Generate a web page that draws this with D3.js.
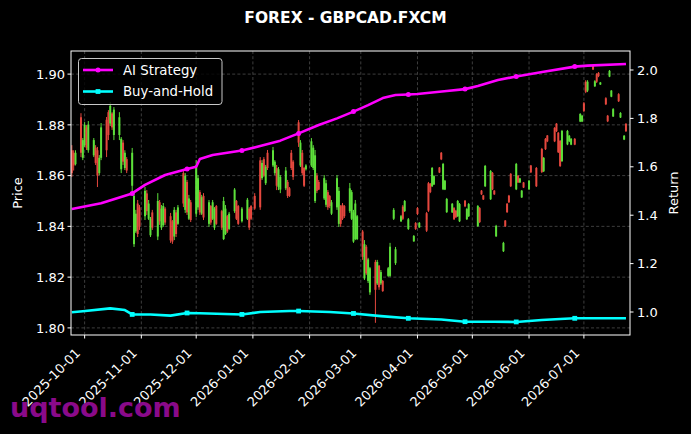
<!DOCTYPE html>
<html><head><meta charset="utf-8">
<script src="https://cdn.jsdelivr.net/npm/d3@7"></script>
<style>html,body{margin:0;padding:0;background:#000;}svg{display:block;font-family:"DejaVu Sans",sans-serif;}</style>
</head><body>
<svg id="chart" width="691" height="434"></svg>
<script>
// ---------- DATA ----------
const candleDates = ["2025-09-24","2025-09-25","2025-09-26","2025-09-29","2025-09-30","2025-10-01","2025-10-02","2025-10-03","2025-10-06","2025-10-07","2025-10-08","2025-10-09","2025-10-10","2025-10-13","2025-10-14","2025-10-15","2025-10-16","2025-10-17","2025-10-20","2025-10-21","2025-10-22","2025-10-23","2025-10-24","2025-10-27","2025-10-28","2025-10-29","2025-10-30","2025-10-31",
"2025-11-03","2025-11-04","2025-11-05","2025-11-06","2025-11-07","2025-11-10","2025-11-11","2025-11-12","2025-11-13","2025-11-14","2025-11-17","2025-11-18","2025-11-19","2025-11-20","2025-11-21","2025-11-24","2025-11-25","2025-11-26","2025-11-27","2025-11-28",
"2025-12-01","2025-12-02","2025-12-03","2025-12-04","2025-12-05","2025-12-08","2025-12-09","2025-12-10","2025-12-11","2025-12-12","2025-12-15","2025-12-16","2025-12-17","2025-12-18","2025-12-19","2025-12-22","2025-12-23","2025-12-24","2025-12-26","2025-12-29","2025-12-30","2025-12-31",
"2026-01-02","2026-01-05","2026-01-06","2026-01-07","2026-01-08","2026-01-09","2026-01-12","2026-01-13","2026-01-14","2026-01-15","2026-01-16","2026-01-19","2026-01-20","2026-01-21","2026-01-22","2026-01-23","2026-01-26","2026-01-27","2026-01-28","2026-01-29","2026-01-30",
"2026-02-02","2026-02-03","2026-02-04","2026-02-05","2026-02-06","2026-02-09","2026-02-10","2026-02-11","2026-02-12","2026-02-13","2026-02-16","2026-02-17","2026-02-18","2026-02-19","2026-02-20","2026-02-23","2026-02-24","2026-02-25","2026-02-26","2026-02-27",
"2026-03-02","2026-03-03","2026-03-04","2026-03-05","2026-03-06","2026-03-09","2026-03-10","2026-03-11","2026-03-12","2026-03-13","2026-03-16","2026-03-17","2026-03-19","2026-03-20","2026-03-23","2026-03-24","2026-03-25","2026-03-27","2026-03-30","2026-03-31",
"2026-04-01","2026-04-02","2026-04-06","2026-04-07","2026-04-08","2026-04-09","2026-04-10","2026-04-13","2026-04-14","2026-04-15","2026-04-16","2026-04-17","2026-04-20","2026-04-21","2026-04-22","2026-04-23","2026-04-24","2026-04-27","2026-04-28","2026-04-29",
"2026-05-04","2026-05-05","2026-05-06","2026-05-07","2026-05-08","2026-05-11","2026-05-12","2026-05-13","2026-05-14","2026-05-18","2026-05-19","2026-05-20","2026-05-21","2026-05-22","2026-05-25","2026-05-26","2026-05-27","2026-05-28","2026-05-29",
"2026-06-01","2026-06-02","2026-06-05","2026-06-08","2026-06-09","2026-06-10","2026-06-11","2026-06-15","2026-06-16","2026-06-17","2026-06-18","2026-06-19","2026-06-22","2026-06-23","2026-06-24","2026-06-26","2026-06-29","2026-06-30",
"2026-07-01","2026-07-02","2026-07-03","2026-07-06","2026-07-07","2026-07-08","2026-07-09","2026-07-10","2026-07-13","2026-07-14","2026-07-15","2026-07-16","2026-07-17","2026-07-20","2026-07-21","2026-07-23","2026-07-24"];

const opens = [1.8700,1.8690,1.8645,1.8830,1.8670,1.8720,1.8790,1.8700,1.8680,1.8710,1.8700,1.8610,1.8670,1.8820,1.8850,1.8805,1.8845,1.8760,1.8760,1.8625,1.8730,1.8630,1.8665,1.8560,1.8330,1.8380,1.8490,1.8475,
1.8440,1.8530,1.8430,1.8365,1.8455,1.8360,1.8495,1.8395,1.8405,1.8470,1.8440,1.8420,1.8360,1.8455,1.8410,1.8610,1.8465,1.8575,1.8430,1.8495,
1.8450,1.8475,1.8535,1.8450,1.8520,1.8410,1.8480,1.8430,1.8395,1.8480,1.8460,1.8350,1.8370,1.8440,1.8390,1.8460,1.8500,1.8480,1.8420,1.8430,1.8470,1.8480,
1.8520,1.8660,1.8590,1.8665,1.8570,1.8690,1.8640,1.8610,1.8630,1.8555,1.8545,1.8550,1.8575,1.8550,1.8690,1.8655,1.8810,1.8640,1.8690,1.8630,1.8625,
1.8640,1.8630,1.8500,1.8600,1.8575,1.8510,1.8485,1.8535,1.8520,1.8450,1.8475,1.8410,1.8480,1.8485,1.8480,1.8460,1.8430,1.8340,1.8350,1.8350,
1.8380,1.8195,1.8320,1.8185,1.8140,1.8260,1.8175,1.8245,1.8175,1.8185,1.8205,1.8205,1.8430,1.8255,1.8420,1.8478,1.8460,1.8390,1.8341,1.8413,
1.8472,1.8396,1.8452,1.8570,1.8568,1.8558,1.8565,1.8632,1.8690,1.8546,1.8545,1.8456,1.8455,1.8472,1.8462,1.8440,1.8420,1.8501,1.8428,1.8440,
1.8401,1.8472,1.8541,1.8522,1.8558,1.8507,1.8611,1.8541,1.8361,1.8302,1.8423,1.8489,1.8521,1.8607,1.8546,1.8600,1.8573,1.8514,1.8573,
1.8546,1.8640,1.8630,1.8705,1.8617,1.8745,1.8758,1.8788,1.8805,1.8769,1.8737,1.8657,1.8723,1.8735,1.8722,1.8745,1.8813,1.8813,
1.8885,1.8970,1.8935,1.9033,1.8952,1.9000,1.9005,1.8959,1.8905,1.8836,1.8990,1.8911,1.8833,1.8921,1.8829,1.8742,1.8804];

const highs = [1.8720,1.8700,1.8700,1.8846,1.8748,1.8811,1.8799,1.8815,1.8748,1.8720,1.8713,1.8681,1.8807,1.8831,1.8858,1.8890,1.8850,1.8870,1.8850,1.8752,1.8740,1.8700,1.8673,1.8709,1.8531,1.8465,1.8504,1.8484,
1.8555,1.8543,1.8504,1.8437,1.8465,1.8531,1.8504,1.8484,1.8492,1.8476,1.8453,1.8425,1.8476,1.8465,1.8484,1.8622,1.8610,1.8583,1.8524,1.8504,
1.8661,1.8602,1.8543,1.8524,1.8531,1.8504,1.8484,1.8504,1.8476,1.8484,1.8465,1.8516,1.8484,1.8445,1.8457,1.8551,1.8504,1.8484,1.8476,1.8512,1.8476,1.8484,
1.8531,1.8673,1.8661,1.8673,1.8642,1.8701,1.8713,1.8661,1.8642,1.8634,1.8602,1.8634,1.8583,1.8555,1.8701,1.8661,1.8819,1.8740,1.8701,1.8634,1.8645,
1.8748,1.8720,1.8701,1.8610,1.8583,1.8602,1.8583,1.8543,1.8524,1.8504,1.8602,1.8555,1.8484,1.8492,1.8484,1.8571,1.8543,1.8465,1.8504,1.8445,
1.8386,1.8346,1.8327,1.8276,1.8240,1.8268,1.8268,1.8248,1.8228,1.8189,1.8240,1.8335,1.8472,1.8319,1.8445,1.8484,1.8504,1.8433,1.8366,1.8417,
1.8476,1.8417,1.8457,1.8575,1.8571,1.8634,1.8602,1.8634,1.8693,1.8650,1.8583,1.8512,1.8492,1.8476,1.8465,1.8504,1.8492,1.8504,1.8472,1.8492,
1.8484,1.8476,1.8543,1.8524,1.8642,1.8622,1.8614,1.8543,1.8406,1.8339,1.8425,1.8492,1.8524,1.8610,1.8650,1.8602,1.8591,1.8543,1.8575,
1.8583,1.8642,1.8634,1.8709,1.8673,1.8748,1.8760,1.8791,1.8807,1.8772,1.8740,1.8780,1.8780,1.8760,1.8748,1.8748,1.8846,1.8839,
1.8890,1.8976,1.8976,1.9035,1.8976,1.9004,1.9008,1.8969,1.8909,1.8839,1.9016,1.8937,1.8866,1.8925,1.8850,1.8760,1.8807];

const lows = [1.8595,1.8620,1.8640,1.8673,1.8661,1.8713,1.8701,1.8690,1.8673,1.8642,1.8555,1.8602,1.8661,1.8673,1.8740,1.8795,1.8780,1.8740,1.8740,1.8610,1.8642,1.8622,1.8610,1.8531,1.8319,1.8374,1.8358,1.8386,
1.8425,1.8445,1.8425,1.8358,1.8386,1.8346,1.8406,1.8386,1.8398,1.8406,1.8335,1.8331,1.8346,1.8358,1.8406,1.8476,1.8453,1.8445,1.8425,1.8417,
1.8437,1.8465,1.8445,1.8445,1.8425,1.8398,1.8406,1.8425,1.8386,1.8406,1.8386,1.8346,1.8366,1.8374,1.8386,1.8453,1.8425,1.8406,1.8415,1.8425,1.8386,1.8425,
1.8465,1.8465,1.8583,1.8594,1.8563,1.8622,1.8634,1.8602,1.8543,1.8543,1.8531,1.8543,1.8512,1.8516,1.8622,1.8583,1.8713,1.8634,1.8602,1.8555,1.8620,
1.8634,1.8622,1.8492,1.8531,1.8543,1.8504,1.8476,1.8465,1.8472,1.8445,1.8465,1.8398,1.8398,1.8425,1.8433,1.8453,1.8425,1.8335,1.8346,1.8346,
1.8268,1.8189,1.8209,1.8177,1.8130,1.8020,1.8169,1.8150,1.8169,1.8142,1.8201,1.8201,1.8425,1.8248,1.8417,1.8425,1.8457,1.8386,1.8339,1.8386,
1.8445,1.8394,1.8378,1.8457,1.8531,1.8555,1.8563,1.8610,1.8661,1.8543,1.8543,1.8453,1.8453,1.8425,1.8433,1.8437,1.8417,1.8476,1.8425,1.8437,
1.8398,1.8413,1.8524,1.8504,1.8555,1.8504,1.8543,1.8524,1.8358,1.8299,1.8398,1.8453,1.8492,1.8555,1.8543,1.8571,1.8571,1.8512,1.8551,
1.8543,1.8610,1.8555,1.8610,1.8614,1.8701,1.8732,1.8732,1.8772,1.8689,1.8634,1.8654,1.8720,1.8732,1.8720,1.8720,1.8811,1.8811,
1.8850,1.8925,1.8929,1.9016,1.8949,1.8965,1.8988,1.8957,1.8878,1.8811,1.8988,1.8909,1.8831,1.8890,1.8827,1.8740,1.8772];

const closes = [1.8610,1.8640,1.8690,1.8690,1.8740,1.8800,1.8710,1.8800,1.8740,1.8650,1.8600,1.8670,1.8790,1.8700,1.8760,1.8875,1.8790,1.8860,1.8830,1.8745,1.8655,1.8690,1.8620,1.8690,1.8520,1.8450,1.8370,1.8400,
1.8540,1.8460,1.8490,1.8430,1.8395,1.8500,1.8420,1.8470,1.8480,1.8415,1.8345,1.8340,1.8465,1.8370,1.8475,1.8490,1.8600,1.8455,1.8510,1.8425,
1.8640,1.8590,1.8455,1.8515,1.8435,1.8495,1.8415,1.8495,1.8470,1.8410,1.8395,1.8500,1.8470,1.8380,1.8450,1.8545,1.8430,1.8410,1.8470,1.8505,1.8395,1.8430,
1.8470,1.8475,1.8650,1.8600,1.8635,1.8630,1.8700,1.8655,1.8560,1.8625,1.8595,1.8620,1.8520,1.8520,1.8630,1.8595,1.8730,1.8730,1.8610,1.8560,1.8640,
1.8735,1.8710,1.8680,1.8540,1.8545,1.8590,1.8570,1.8475,1.8480,1.8495,1.8590,1.8540,1.8410,1.8430,1.8440,1.8550,1.8535,1.8455,1.8490,1.8440,
1.8280,1.8330,1.8215,1.8270,1.8235,1.8150,1.8260,1.8160,1.8220,1.8145,1.8235,1.8320,1.8465,1.8310,1.8440,1.8430,1.8500,1.8428,1.8362,1.8390,
1.8449,1.8414,1.8383,1.8462,1.8535,1.8630,1.8598,1.8612,1.8664,1.8646,1.8580,1.8508,1.8489,1.8428,1.8436,1.8500,1.8488,1.8479,1.8468,1.8488,
1.8480,1.8417,1.8526,1.8506,1.8638,1.8618,1.8546,1.8526,1.8402,1.8335,1.8400,1.8456,1.8495,1.8558,1.8646,1.8573,1.8589,1.8541,1.8553,
1.8580,1.8613,1.8558,1.8614,1.8670,1.8704,1.8735,1.8735,1.8775,1.8692,1.8638,1.8776,1.8776,1.8757,1.8745,1.8722,1.8843,1.8836,
1.8855,1.8930,1.8970,1.9018,1.8972,1.8970,1.8992,1.8967,1.8881,1.8814,1.9013,1.8935,1.8862,1.8893,1.8847,1.8757,1.8775];

const strategyDates = ["2025-09-24","2025-10-10","2025-10-27","2025-11-03","2025-11-14","2025-11-26","2025-12-01","2025-12-03","2025-12-10","2025-12-26","2026-01-05","2026-01-16","2026-01-26","2026-02-06","2026-02-16","2026-02-25","2026-03-05","2026-03-13","2026-03-20","2026-03-27","2026-04-01","2026-04-17","2026-04-27","2026-05-04","2026-05-15","2026-05-25","2026-06-09","2026-06-26","2026-07-03","2026-07-24"];
const strategyReturns = [1.426,1.449,1.490,1.525,1.566,1.591,1.600,1.632,1.649,1.667,1.686,1.708,1.738,1.773,1.800,1.828,1.855,1.884,1.897,1.899,1.901,1.913,1.921,1.934,1.959,1.973,1.993,2.014,2.018,2.025];

const holdDates = ["2025-09-24","2025-09-30","2025-10-15","2025-10-23","2025-10-27","2025-11-06","2025-11-17","2025-11-26","2025-12-03","2025-12-26","2026-01-05","2026-01-21","2026-01-26","2026-02-12","2026-02-25","2026-03-12","2026-03-27","2026-04-14","2026-04-27","2026-05-13","2026-05-25","2026-06-08","2026-06-18","2026-06-26","2026-07-24"];
const holdReturns = [0.999,1.003,1.015,1.008,0.990,0.990,0.985,0.996,0.995,0.990,1.000,1.004,1.004,1.000,0.994,0.983,0.974,0.969,0.960,0.960,0.959,0.967,0.971,0.974,0.974];

const markerDates = ["2025-10-27","2025-11-26","2025-12-26","2026-01-26","2026-02-25","2026-03-27","2026-04-27","2026-05-25","2026-06-26"];

const priceTicks = [1.80,1.82,1.84,1.86,1.88,1.90];
const returnTicks = [1.0,1.2,1.4,1.6,1.8,2.0];
const monthTicks = ["2025-10-01","2025-11-01","2025-12-01","2026-01-01","2026-02-01","2026-03-01","2026-04-01","2026-05-01","2026-06-01","2026-07-01"];
const seriesNames = ["AI Strategy","Buy-and-Hold"];
const titleText = "FOREX - GBPCAD.FXCM";

// ---------- LAYOUT ----------
const W = 691, H = 434;
const L = 71, R = 630, T = 51, B = 335;
const parse = d3.utcParse("%Y-%m-%d");
const parseT = d3.utcParse("%Y-%m-%dT%H:%M");
const fmt = d3.utcFormat("%Y-%m-%d");

const x = d3.scaleUtc().domain([parseT("2025-09-23T13:00"), parseT("2026-07-26T05:00")]).range([L, R]);
const yP = d3.scaleLinear().domain([1.7972, 1.9091]).range([B, T]);
const yR = d3.scaleLinear().domain([0.905, 2.0785]).range([B, T]);

const svg = d3.select("#chart");
svg.append("rect").attr("width", W).attr("height", H).attr("fill", "#000");

svg.append("defs").append("clipPath").attr("id", "clip")
  .append("rect").attr("x", L).attr("y", T).attr("width", R - L).attr("height", B - T);

// grid
const grid = svg.append("g").attr("stroke", "#4d4d4d").attr("stroke-width", 0.8).attr("stroke-dasharray", "3,2.2");
grid.selectAll("line.v").data(monthTicks).join("line")
  .attr("x1", d => x(parse(d))).attr("x2", d => x(parse(d))).attr("y1", T).attr("y2", B);
grid.selectAll("line.h").data(priceTicks).join("line")
  .attr("x1", L).attr("x2", R).attr("y1", d => yP(d)).attr("y2", d => yP(d));

// candles
const candles = candleDates.map((d, i) => ({date: parse(d), o: opens[i], h: highs[i], l: lows[i], c: closes[i]}));
const cg = svg.append("g").attr("clip-path", "url(#clip)").attr("opacity", 0.95);
const colorOf = d => d.c >= d.o ? "#62ec3e" : "#f24c42";
cg.selectAll("line.wick").data(candles).join("line")
  .attr("x1", d => x(d.date)).attr("x2", d => x(d.date))
  .attr("y1", d => yP(d.h)).attr("y2", d => yP(d.l))
  .attr("stroke", colorOf).attr("stroke-width", 1);
cg.selectAll("rect.body").data(candles).join("rect")
  .attr("x", d => x(d.date) - 1).attr("width", 2)
  .attr("y", d => yP(Math.max(d.o, d.c)))
  .attr("height", d => Math.max(0.8, Math.abs(yP(d.o) - yP(d.c))))
  .attr("fill", colorOf);

// return lines
const markerSet = new Set(markerDates);
const series = [
  {name: seriesNames[0], color: "#ff00ff", dates: strategyDates, vals: strategyReturns, shape: "circle"},
  {name: seriesNames[1], color: "#00ffff", dates: holdDates, vals: holdReturns, shape: "square"}
];
const lg = svg.append("g").attr("clip-path", "url(#clip)");
const line = d3.line().x(d => x(d.date)).y(d => yR(d.v));
series.forEach(s => {
  const pts = s.dates.map((d, i) => ({date: parse(d), v: s.vals[i], key: d}));
  lg.append("path").datum(pts).attr("d", line)
    .attr("fill", "none").attr("stroke", s.color).attr("stroke-width", 2.6).attr("stroke-linejoin", "round");
  const mk = pts.filter(p => markerSet.has(p.key));
  if (s.shape === "circle") {
    lg.selectAll(null).data(mk).join("circle")
      .attr("cx", d => x(d.date)).attr("cy", d => yR(d.v)).attr("r", 2.5).attr("fill", s.color);
  } else {
    lg.selectAll(null).data(mk).join("rect")
      .attr("x", d => x(d.date) - 2.4).attr("y", d => yR(d.v) - 2.4).attr("width", 4.8).attr("height", 4.8).attr("fill", s.color);
  }
});

// frame
svg.append("rect").attr("x", L).attr("y", T).attr("width", R - L).attr("height", B - T)
  .attr("fill", "none").attr("stroke", "#fff").attr("stroke-width", 1);

// axes
const fs = 13;
const ax = svg.append("g").attr("fill", "#fff").attr("font-size", fs);
// left
priceTicks.forEach(v => {
  ax.append("line").attr("x1", L - 3.5).attr("x2", L).attr("y1", yP(v)).attr("y2", yP(v)).attr("stroke", "#fff");
  ax.append("text").attr("x", L - 6).attr("y", yP(v)).attr("dy", "0.36em").attr("text-anchor", "end").text(d3.format(".2f")(v));
});
// right
returnTicks.forEach(v => {
  ax.append("line").attr("x1", R).attr("x2", R + 3.5).attr("y1", yR(v)).attr("y2", yR(v)).attr("stroke", "#fff");
  ax.append("text").attr("x", R + 7).attr("y", yR(v)).attr("dy", "0.36em").attr("text-anchor", "start").text(d3.format(".1f")(v));
});
// bottom
monthTicks.forEach(d => {
  const xx = x(parse(d));
  ax.append("line").attr("x1", xx).attr("x2", xx).attr("y1", B).attr("y2", B + 3.5).attr("stroke", "#fff");
  ax.append("text").attr("text-anchor", "end")
    .attr("transform", `translate(${xx - 3.5},${B + 19}) rotate(-45)`).text(fmt(parse(d)));
});
// axis titles
ax.append("text").attr("transform", `translate(22,${(T + B) / 2}) rotate(-90)`).attr("text-anchor", "middle").text("Price");
ax.append("text").attr("transform", `translate(678,${(T + B) / 2}) rotate(-90)`).attr("text-anchor", "middle").text("Return");

// title
svg.append("text").attr("x", 345.5).attr("y", 23).attr("text-anchor", "middle")
  .attr("fill", "#fff").attr("font-weight", "bold").attr("font-size", 15.5).text(titleText);

// legend
const leg = svg.append("g");
leg.append("rect").attr("x", 78.5).attr("y", 58.5).attr("width", 143.5).attr("height", 46)
  .attr("rx", 3).attr("fill", "#000").attr("fill-opacity", 0.8).attr("stroke", "#c8c8c8").attr("stroke-width", 1);
series.forEach((s, i) => {
  const yy = 70 + i * 21.5;
  leg.append("line").attr("x1", 83).attr("x2", 113).attr("y1", yy).attr("y2", yy).attr("stroke", s.color).attr("stroke-width", 2.6);
  if (s.shape === "circle") leg.append("circle").attr("cx", 98).attr("cy", yy).attr("r", 2.5).attr("fill", s.color);
  else leg.append("rect").attr("x", 95.6).attr("y", yy - 2.4).attr("width", 4.8).attr("height", 4.8).attr("fill", s.color);
  leg.append("text").attr("x", 123).attr("y", yy).attr("dy", "0.36em").attr("fill", "#fff").attr("font-size", 13.3).text(s.name);
});

// watermark
svg.append("text").attr("x", 10).attr("y", 417).attr("fill", "#8a0a8a").attr("font-weight", "bold")
  .attr("font-size", 27).text("uqtool.com");
</script>
</body></html>
